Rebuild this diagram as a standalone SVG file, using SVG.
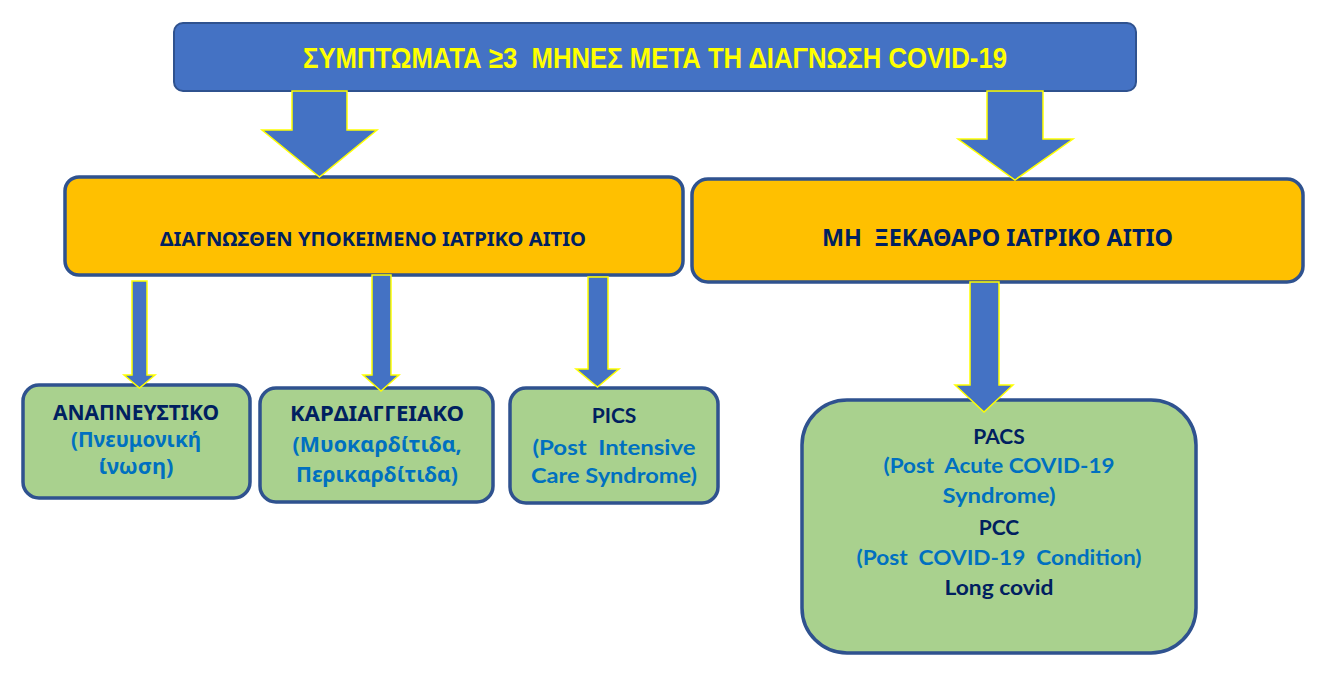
<svg xmlns="http://www.w3.org/2000/svg" width="1325" height="674" viewBox="0 0 1325 674">
<style>
.top{fill:#4472C4;stroke:#2F528F;stroke-width:2}
.ybox{fill:#FFC000;stroke:#2F528F;stroke-width:3.5}
.gbox{fill:#A9D18E;stroke:#2F528F;stroke-width:3.5}
.arr{fill:#4472C4;stroke:#FFFF00;stroke-width:1.5;stroke-linejoin:miter}
.t{font-family:Lato,"Noto Sans","DejaVu Sans",sans-serif;font-weight:700;text-anchor:middle;white-space:pre}
.gr{font-family:"Noto Sans","DejaVu Sans",sans-serif;font-weight:700;text-anchor:middle;white-space:pre}
.navy{fill:#002060}
.blue{fill:#0070C0}
.title{font-family:"Liberation Sans",Arial,sans-serif;font-weight:700;font-size:30px;fill:#FFFF00;text-anchor:middle;white-space:pre}
</style>
<rect width="1325" height="674" fill="#FFFFFF"/>
<g id="node-top">
<rect class="top" x="174" y="23" width="962" height="68" rx="9"/>
<text class="title" x="655" y="68" textLength="704" lengthAdjust="spacingAndGlyphs">ΣΥΜΠΤΩΜΑΤΑ ≥3  ΜΗΝΕΣ ΜΕΤΑ ΤΗ ΔΙΑΓΝΩΣΗ COVID-19</text>
</g>
<g id="node-diagnosed">
<rect class="ybox" x="65" y="177" width="618" height="98" rx="14"/>
<text class="gr navy" x="373" y="246" font-size="19" textLength="426" lengthAdjust="spacingAndGlyphs">ΔΙΑΓΝΩΣΘΕΝ ΥΠΟΚΕΙΜΕΝΟ ΙΑΤΡΙΚΟ ΑΙΤΙΟ</text>
</g>
<g id="node-unclear">
<rect class="ybox" x="692" y="179" width="611" height="103" rx="16"/>
<text class="gr navy" x="997.5" y="246" font-size="23" textLength="351" lengthAdjust="spacingAndGlyphs">ΜΗ  ΞΕΚΑΘΑΡΟ ΙΑΤΡΙΚΟ ΑΙΤΙΟ</text>
</g>
<g id="node-respiratory">
<rect class="gbox" x="23" y="385" width="227" height="113" rx="16"/>
<text class="gr navy" x="136" y="420" font-size="21" textLength="166" lengthAdjust="spacingAndGlyphs">ΑΝΑΠΝΕΥΣΤΙΚΟ</text>
<text class="gr blue" x="136" y="447" font-size="21" textLength="130" lengthAdjust="spacingAndGlyphs">(Πνευμονική</text>
<text class="gr blue" x="136" y="474" font-size="21" textLength="75" lengthAdjust="spacingAndGlyphs">ίνωση)</text>
</g>
<g id="node-cardio">
<rect class="gbox" x="260" y="388" width="233" height="114" rx="16"/>
<text class="gr navy" x="377" y="421" font-size="21" textLength="174" lengthAdjust="spacingAndGlyphs">ΚΑΡΔΙΑΓΓΕΙΑΚΟ</text>
<text class="gr blue" x="377" y="452" font-size="21" textLength="169" lengthAdjust="spacingAndGlyphs">(Μυοκαρδίτιδα,</text>
<text class="gr blue" x="377" y="482" font-size="21" textLength="162" lengthAdjust="spacingAndGlyphs">Περικαρδίτιδα)</text>
</g>
<g id="node-pics">
<rect class="gbox" x="510" y="388" width="208" height="115" rx="16"/>
<text class="t navy" x="614" y="423" font-size="21">PICS</text>
<text class="t blue" x="614" y="455" font-size="21" textLength="163" lengthAdjust="spacingAndGlyphs">(Post  Intensive</text>
<text class="t blue" x="614" y="483" font-size="21" textLength="166" lengthAdjust="spacingAndGlyphs">Care Syndrome)</text>
</g>
<g id="node-pacs">
<rect class="gbox" x="802" y="400" width="394" height="253" rx="45"/>
<text class="t navy" x="999" y="444" font-size="21">PACS</text>
<text class="t blue" x="999" y="473" font-size="21" textLength="231" lengthAdjust="spacingAndGlyphs">(Post  Acute COVID-19</text>
<text class="t blue" x="999" y="503" font-size="21" textLength="113" lengthAdjust="spacingAndGlyphs">Syndrome)</text>
<text class="t navy" x="999" y="535" font-size="21">PCC</text>
<text class="t blue" x="999" y="565" font-size="21" textLength="285" lengthAdjust="spacingAndGlyphs">(Post  COVID-19  Condition)</text>
<text class="t navy" x="999" y="595" font-size="21" textLength="109" lengthAdjust="spacingAndGlyphs">Long covid</text>
</g>
<g id="connectors">
<polygon class="arr" points="292,91 347,91 347,130 377,130 319.5,177 262,130 292,130"/>
<polygon class="arr" points="987,91 1043,91 1043,139 1073,139 1015,180 958,139 987,139"/>
<polygon class="arr" points="132,281 147,281 147,375 155,375 139.5,388 124,375 132,375"/>
<polygon class="arr" points="372,275 391,275 391,375 399,375 381,391 363,375 372,375"/>
<polygon class="arr" points="588,277 608,277 608,369 619,369 597.5,387 576,369 588,369"/>
<polygon class="arr" points="970,282 999,282 999,385 1013,385 984,412 955,385 970,385"/>
</g>
</svg>
